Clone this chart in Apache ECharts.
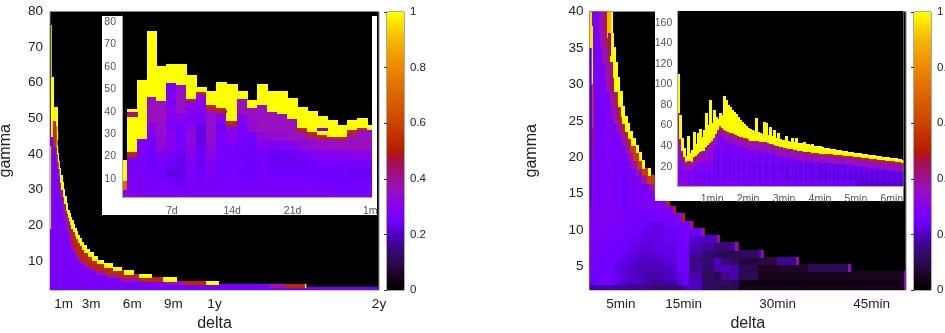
<!DOCTYPE html>
<html><head><meta charset="utf-8">
<style>html,body{margin:0;padding:0;background:#fff}#c{width:945px;height:333px;filter:blur(0.4px)}</style>
<script src="https://cdn.jsdelivr.net/npm/echarts@6/dist/echarts.min.js"></script>
</head><body><div id="c"></div>
<script>
// ---------- colour scale ----------
const paletteStops=[[0,'#000000'],[0.05,'#1c0420'],[0.1,'#2a0a50'],[0.15,'#3a0880'],[0.2,'#5000c4'],[0.25,'#7000ff'],[0.3,'#8800ee'],[0.36,'#9810c0'],[0.42,'#a01080'],[0.47,'#a81040'],[0.5,'#b81c00'],[0.55,'#c03000'],[0.6,'#cc4400'],[0.7,'#dc6400'],[0.8,'#ec8800'],[0.9,'#f4b800'],[1,'#ffff00']];

// ---------- main left ----------
const leftYTicks=[10,20,30,40,50,60,70,80];
const leftXTicks=[1,3,6,9,12,24];
const leftXLabels=['1m','3m','6m','9m','1y','2y'];
const leftRowTop=[2.4,3.3,4.2,5.3,6.2,7.2,8.2,9.2,10.2,11.2,12.2,13.2,14.2,15.2,16.2,17.2,18.2,19.2,20.2,21.2,22.2,23.2,24.2,26,28,30,32,34,36,38,40,42,44,46,48,50];
const leftRowEnd=[24,18.7,12.3,9.25,7.4,6.1,5.2,4.55,3.9,3.5,3.2,2.9,2.65,2.45,2.3,2.18,2.03,1.92,1.8,1.68,1.55,1.48,1.42,1.3,1.2,1.08,0.98,0.88,0.8,0.72,0.66,0.6,0.55,0.6,0.58,0.58];
const leftRowYellow=[24,18.6,11.4,8.3,6.5,5.4,4.6,4.0,3.45,3.1,2.8,2.55,2.35,2.2,2.05,1.95,1.83,1.72,1.6,1.5,1.4,1.34,1.28,1.17,1.07,0.97,0.87,0.77,0.7,0.63,0.56,0.5,0.47,0.5,0.48,0.38];
const leftRowRed=[24,17.2,9.8,6.6,5.1,4.1,3.4,2.9,2.55,2.3,2.1,1.95,1.85,1.75,1.7,1.65,1.6,1.55,1.5,1.42,1.33,1.27,1.22,1.12,1.03,0.93,0.83,0.73,0.66,0.59,0.52,0.46,0.42,0.44,0.42,0.34];
const leftRowMag=[24,16,8.5,5.2,4.2,3.4,2.9,2.5,2.2,2,1.85,1.7,1.6,1.5,1.45,1.4,1.35,1.3,1.2,1.15,1.1,1.05,1,0.95,0.88,0.8,0.72,0.65,0.58,0.5,0.43,0.38,0.33,0.3,0.3,0.25];
const leftSpikes=[[0.02,0.08,19,42,1],[0.07,0.13,45,76,1],[0.14,0.26,45,61.5,1],[0.28,0.36,45,53,1],[0.4,0.56,49,53,1],[0.28,0.42,42,49,0.55]];

// ---------- inset left ----------
const insetAYTicks=[10,20,30,40,50,60,70,80];
const insetAXTicks=[7,14,21,30];
const insetAXLabels=['7d','14d','21d','1m'];
const insetAEdges=[1.23,1.81,2.97,4.13,5.28,6.44,7.6,8.76,9.91,11.07,12.23,13.39,14.6,15.76,16.91,18.07,19.23,20.39,21.54,22.7,23.86,25.02,26.17,27.33,28.49,29.65,30.2];
const insetATop=[18,41,54,76,60,61,61,56,51,49,53,52,49,45,52,49,49,46,42,40,38,36,34,36,37,34];
const insetAYellowBase=[9,22,28,47,45,53,52,46,49,43,42,36,46,42,43,40,39,37,33,31,30,29,29,32,33,32];
const insetARedBase=[5,20,28,47,45,53,52,45,48,41,41,34,46,41.5,43,40,39,37,31,29,28,28,27.5,30,32,32];
const insetABodyEdges=[1.5,4,7,11,15,19,23,27,31,35,39,43,47,55];
const insetABody=[
[.34,.31,.28,.28,.28,.28,.28,.28,.28,.28,.28,.28,.28,.28,.28,.28,.28,.28,.28,.28,.28,.28,.28,.28,.28,.28],
[.30,.28,.27,.27,.27,.27,.26,.27,.27,.27,.27,.27,.27,.27,.27,.27,.27,.27,.27,.27,.27,.26,.26,.26,.26,.26],
[.30,.28,.27,.27,.26,.25,.24,.27,.26,.27,.26,.26,.26,.25,.26,.26,.26,.26,.26,.25,.25,.25,.25,.25,.25,.25],
[.30,.27,.27,.26,.25,.23,.23,.27,.25,.28,.25,.26,.25,.25,.26,.25,.25,.25,.25,.25,.25,.25,.25,.24,.24,.24],
[.30,.26,.27,.25,.26,.25,.235,.28,.24,.29,.26,.26,.26,.24,.26,.245,.24,.245,.24,.25,.26,.26,.26,.26,.26,.26],
[.34,.30,.27,.25,.28,.27,.24,.30,.25,.31,.27,.26,.25,.24,.26,.24,.24,.245,.26,.28,.30,.30,.30,.31,.31,.31],
[.30,.35,.27,.25,.33,.30,.26,.32,.235,.33,.26,.27,.26,.25,.29,.27,.28,.29,.33,.34,.35,.36,.36,.36,.36,.36],
[.30,.35,.30,.27,.34,.30,.26,.33,.23,.34,.27,.30,.26,.26,.33,.34,.34,.36,.36,.36,.36,.36,.36,.36,.36,.36],
[.30,.35,.35,.30,.35,.28,.26,.30,.23,.35,.245,.33,.26,.34,.36,.36,.36,.36,.36,.36,.36,.36,.36,.36,.36,.36],
[.30,.35,.36,.36,.36,.29,.30,.27,.27,.34,.30,.36,.30,.35,.36,.36,.36,.36,.36,.36,.36,.36,.36,.36,.36,.36],
[.30,.35,.36,.36,.36,.30,.35,.30,.28,.36,.33,.36,.36,.36,.36,.36,.36,.36,.36,.36,.36,.36,.36,.36,.36,.36],
[.30,.35,.36,.34,.36,.28,.36,.33,.30,.36,.36,.36,.36,.36,.36,.36,.36,.36,.36,.36,.36,.36,.36,.36,.36,.36],
[.30,.35,.36,.36,.36,.27,.35,.36,.34,.36,.36,.36,.36,.36,.36,.36,.36,.36,.36,.36,.36,.36,.36,.36,.36,.36]];
const insetAExtras=[[1.81,2.97,38,40,0.42],[1.81,2.97,40,41,1],[12.23,13.39,39.5,40.5,0.52],[23.86,25.02,31.5,32.5,0.28]];

// ---------- main right ----------
const rightYTicks=[5,10,15,20,25,30,35,40];
const rightXTicks=[5,15,30,45];
const rightXLabels=['5min','15min','30min','45min'];
const rightRowTop=[2.6,3.2,4.3,5.3,6.2,7.2,8.3,9.3,10.2,11.2,12.3,13.3,14.3,15.4,16.4,17.5,18.5,19.5,20.6,21.6,22.6,23.6,24.6,25.6,27,29,31,33,35,37,40];
const rightRowEnd=[50.5,50.5,50.5,41.7,33.4,27.8,23.8,20.8,18.4,16.6,15.1,13.8,12.7,11.8,11.1,10.3,9.76,8.85,8.3,7.8,7.26,6.9,6.46,6,5.66,5.2,4.86,4.5,4.2,3.9,3.7];
const rightRowYellowW=[0,0,0,0,0,0,0,0,0,0,0,0,0,0,0,0,.4,.4,.3,.3,.5,.6,.7,.7,.6,.6,.8,.8,.8,.8,.8];
const rightRowRedW=[0,0,0,0,.12,.12,.15,.15,.15,.2,.25,.25,.3,.5,.7,1.1,.9,.8,.9,.9,.6,.5,.5,.5,.5,.4,.4,.3,.4,.4,.4];
const rightBodyEdges=[0,1,2,3,4,5,6,7,8,9,10,12,14,15,16,18,20,21,22.5,24,27,30,35,42,50.5];
const rightBody=[
[.18,.18,.18,.18,.17,.17,.16,.16,.16,.16,.14,.14,.14,.20,.20,.12,.10,.10,.10,.04,.04,.04,.04,.04],
[.24,.25,.26,.25,.23,.21,.20,.20,.19,.17,.17,.18,.22,.24,.20,.12,.12,.12,.10,.03,.03,.03,.03,.03],
[.25,.25,.26,.25,.24,.22,.21,.20,.19,.18,.18,.20,.23,.24,.18,.11,.10,.16,.18,.10,.04,.04,.04,.05],
[.26,.25,.25,.25,.23,.22,.21,.20,.19,.19,.19,.20,.25,.25,.16,.13,.18,.20,.18,.10,.05,.06,.10,.16],
[.26,.26,.25,.25,.24,.23,.22,.21,.20,.20,.20,.22,.25,.25,.15,.14,.20,.14,.12,.08,.09,.16,.14,.14],
[.27,.26,.26,.25,.25,.24,.23,.22,.21,.21,.22,.23,.25,.25,.17,.13,.12,.10,.10,.12,.17,.14,.14,.14],
[.27,.27,.26,.26,.25,.25,.24,.23,.22,.22,.23,.23,.25,.26,.19,.17,.14,.14,.16,.20,.20,.20,.20,.20],
[.28,.27,.27,.26,.26,.25,.25,.24,.23,.23,.23,.24,.25,.26,.21,.20,.20,.25,.25,.25,.25,.25,.25,.25],
[.28,.28,.27,.27,.26,.26,.25,.25,.24,.23,.23,.24,.25,.26,.24,.26,.26,.26,.26,.26,.26,.26,.26,.26],
[.28,.28,.28,.27,.27,.26,.26,.25,.25,.24,.23,.25,.26,.28,.28,.28,.28,.28,.28,.28,.28,.28,.28,.28],
[.28,.28,.28,.28,.27,.27,.26,.26,.25,.25,.26,.26,.30,.33,.33,.33,.33,.33,.33,.33,.33,.33,.33,.33],
[.28,.28,.28,.28,.28,.27,.27,.26,.26,.26,.27,.28,.33,.33,.33,.33,.33,.33,.33,.33,.33,.33,.33,.33]];
const rightStreakEdges=[0,.4,.8,1.2,1.6,2,2.4,2.8,3.2,3.6,4,4.4,4.8,5.2,5.6,6,6.4,6.8,7.2,7.6,8,8.4,8.8,9.2,9.6,10,10.4,10.8,11.2,11.6,12];
const rightStreak=[.22,.30,.27,.26,.27,.28,.27,.26,.29,.27,.26,.28,.27,.26,.25,.27,.28,.26,.27,.28,.27,.28,.27,.28,.27,.28,.28,.27,.28,.28];
const rightSpikes=[[0.05,0.35,35,40,0.95],[0.35,0.55,30,38,1],[0.4,0.6,24,30,0.6],[0.45,0.6,20,24,0.5],[2.9,3.3,36.5,40,0.9],[3.1,3.4,34,37,0.42],[3.3,3.6,29,33,0.42]];

// ---------- inset right ----------
const insetBYTicks=[20,40,60,80,100,120,140,160];
const insetBXTicks=[1,2,3,4,5,6];
const insetBXLabels=['1min','2min','3min','4min','5min','6min'];
const insetBStart=0.03;
const insetBStep=0.0557;
const insetBTop=[110,70,47,38,30,49,33,36,53,42,52,56,48,55,72,60,84,62,75,68,66,72,70,88,84,80,78,75,73,71,68,65,63,61,59,57,56,55,54,67,53,52,51,63,62,50,58,49,55,47,52,46.5,46,45.5,49,44.5,44,47,43.5,47,43,43,42.5,44,41.5,41.5,41,42,40,40,39.5,40,38.5,38,38,38,37,37,37,36,36,36,35,35,35,34,34,34,33,33,33,33,32,32,32,31,31,31,31,30,30,30,29,29,29,29,28,28,28,28,27,27,26];
const insetBBase=[73,47,36,30,25,26,26,25,30,31,33,35,36,36,40,42,44,46,48,52,56,60,58,56,55,54,53,53,52,51,50,49,49,48,48,47,46,46,46,46,46,45,45,45,45,44,43,43,42,41,41,40,40,39,39,38,38,38,37,37,36,36,36,35,35,35,35,34,34,34,34,33,33,33,33,33,33,33,32,32,32,32,32,31,31,31,31,31,30,30,30,30,29,29,29,29,28,28,28,28,27,27,27,27,26,26,26,26,26,25,25,25,24];
const insetBStreak=[.02,.01,-.01,.01,.02,0,-.02,.01,-.02,0,.02,-.01,.01,-.03,.01,0,-.02,.02,-.01,0,-.03,.01,.02,-.02,0,.01,-.03,.01,-.01,.02,-.02,0,.01,-.03,.02,0,-.01,.01,-.02,.02,0,-.03,.01,.01,-.02,0,.02,-.01,-.03,.01,0,.02,-.02,.01,-.01,-.03,.02,0,.01,-.02,.01,-.01,0,.02,-.03,.01,0,-.02,.01,.02,-.01,-.02,0,.01,-.03,.01,0,.01,-.02,.01,-.01,0,.02,-.02,0,.01,-.01,0,.01,-.02,.01,0,-.01,.01,-.02,0,.01,-.01,.01,0,-.02,.01,0,-.01,.01,0,-.02,.01,-.01,0,.01,-.01,0];
const insetBSpikes=[[0.03,0.045,110,165,1]];
const insetBBodyXEdges=[0,.5,1,2,3,4,5,6.4];
const insetBBodyYEdges=[1.3,8,16,24,32,42,60,90];
const insetBBody=[
[.30,.28,.28,.27,.26,.25,.22],
[.28,.26,.26,.25,.24,.23,.23],
[.30,.28,.25,.24,.24,.24,.25],
[.32,.33,.26,.26,.27,.31,.33],
[.33,.33,.27,.29,.33,.33,.33],
[.33,.30,.28,.33,.33,.33,.33],
[.33,.33,.33,.33,.33,.33,.33]];

// ---------- helpers ----------
function hex(h){return [parseInt(h.slice(1,3),16),parseInt(h.slice(3,5),16),parseInt(h.slice(5,7),16)];}
function colorOf(v){
  v=Math.max(0,Math.min(1,v));
  for(let i=1;i<paletteStops.length;i++){
    const a=paletteStops[i-1],b=paletteStops[i];
    if(v<=b[0]){const t=(v-a[0])/(b[0]-a[0]),p=hex(a[1]),q=hex(b[1]);
      return 'rgb('+p.map((c,k)=>Math.round(c+(q[k]-c)*t)).join(',')+')';}
  }
  return '#ffff00';
}
function renderCell(params,api){
  const x0=api.value(0),x1=api.value(1),y0=api.value(2),y1=api.value(3),v=api.value(4);
  const a=api.coord([x0,y0]),b=api.coord([x1,y1]);
  let l=Math.min(a[0],b[0]),r=Math.max(a[0],b[0]),t=Math.min(a[1],b[1]),d=Math.max(a[1],b[1]);
  if(r-l>=1.5){l=Math.floor(l);r=Math.ceil(r);}
  if(d-t>=1.5){t=Math.floor(t);d=Math.ceil(d);}
  const cs=params.coordSys;
  return {type:'rect',shape:{x:l,y:t,width:r-l,height:d-t},style:{fill:colorOf(v)},
    clipPath:{type:'rect',shape:{x:cs.x,y:cs.y,width:cs.width,height:cs.height}},silent:true};
}
function addSegments(cells,from,to,y0,y1,edges,vals){
  for(let i=0;i<vals.length;i++){
    const a=Math.max(from,edges[i]),b=Math.min(to,edges[i+1]);
    if(b>a&&vals[i]!=null)cells.push([a,b,y0,y1,vals[i]]);
  }
}
// ---------- build cells ----------
function leftCells(){
  const c=[];let base=1.8;
  leftRowTop.forEach((top,i)=>{
    const m=leftRowMag[i],r=leftRowRed[i],y=leftRowYellow[i],e=leftRowEnd[i];
    const bodyV=i===0?0.26:0.27;
    c.push([0,m,base,top,bodyV]);
    if(r>m)c.push([m,r,base,top,0.37]);
    if(y>r)c.push([r,y,base,top,0.53]);
    if(e>y)c.push([y,e,base,top,1]);
    base=top;
  });
  leftSpikes.forEach(s=>c.push(s));
  return c;
}
function insetACells(){
  const c=[];
  insetATop.forEach((top,i)=>{
    const x0=insetAEdges[i],x1=insetAEdges[i+1],yb=insetAYellowBase[i],rb=insetARedBase[i];
    insetABody.forEach((row,k)=>{
      const a=insetABodyEdges[k],b=Math.min(insetABodyEdges[k+1],rb);
      if(b>a)c.push([x0,x1,a,b,row[i]]);
    });
    if(yb>rb)c.push([x0,x1,rb,yb,i===0?0.7:0.53]);
    c.push([x0,x1,yb,top,1]);
  });
  insetAExtras.forEach(s=>c.push(s));
  return c;
}
function rightCells(){
  const c=[];let base=1.8;
  rightRowTop.forEach((top,i)=>{
    const e=rightRowEnd[i],yw=rightRowYellowW[i],rw=rightRowRedW[i];
    const red=e-yw-rw, mag=red-(top>15?0.9:0.3);
    if(i<rightBody.length) addSegments(c,0,mag,base,top,rightBodyEdges,rightBody[i]);
    else addSegments(c,0,mag,base,top,rightStreakEdges,rightStreak);
    c.push([mag,red,base,top,top>15?0.37:0.33]);
    if(rw>0)c.push([red,e-yw,base,top,top>15&&top<22?0.58:0.52]);
    if(yw>0)c.push([e-yw,e,base,top,1]);
    base=top;
  });
  rightSpikes.forEach(s=>c.push(s));
  return c;
}
function insetBCells(){
  const c=[];
  insetBTop.forEach((top,i)=>{
    const x0=insetBStart+i*insetBStep,x1=x0+insetBStep,base=insetBBase[i];
    const col=insetBBodyXEdges.findIndex((e,k)=>x0>=e&&x0<insetBBodyXEdges[k+1]);
    const redB=base-1.6,magB=base-9;
    insetBBody.forEach((row,k)=>{
      const a=insetBBodyYEdges[k],b=Math.min(insetBBodyYEdges[k+1],magB);
      if(b>a)c.push([x0,x1,a,b,row[col]+insetBStreak[i]]);
    });
    c.push([x0,x1,Math.max(magB,1.3),redB,0.36+insetBStreak[i]]);
    c.push([x0,x1,redB,base,0.53]);
    if(top>base)c.push([x0,x1,base,top,1]);
  });
  insetBSpikes.forEach(s=>c.push(s));
  return c;
}
// ---------- chart ----------
const FONT="'Liberation Sans', Arial, sans-serif";
function xAxis(grid,min,max,ticks,labels,size,color,name,z){
  return {type:'value',gridIndex:grid,min,max,z,name,nameLocation:'middle',nameGap:26,
    nameTextStyle:{fontFamily:FONT,fontSize:16,color:'#222'},
    splitLine:{show:false},axisLine:{show:!name,onZero:false,lineStyle:{color:'#aaa'}},axisTick:{show:false},
    axisLabel:{customValues:ticks,formatter:v=>labels[ticks.indexOf(v)],fontFamily:FONT,fontSize:size,color,margin:name?7:8,hideOverlap:false,showMinLabel:true,showMaxLabel:true}};
}
function yAxis(grid,min,max,ticks,size,color,name,gap,z,margin){
  return {type:'value',gridIndex:grid,min,max,z,name,nameLocation:'middle',nameGap:gap,nameRotate:90,
    nameTextStyle:{fontFamily:FONT,fontSize:16,color:'#222'},
    splitLine:{show:false},axisLine:{show:!name,onZero:false,lineStyle:{color:'#aaa'}},axisTick:{show:false},
    axisLabel:{customValues:ticks,fontFamily:FONT,fontSize:size,color,margin}};
}
function cellSeries(i,data,z){
  return {type:'custom',xAxisIndex:i,yAxisIndex:i,z,data,renderItem:renderCell,clip:true,
    encode:{x:[0,1],y:[2,3]},silent:true,animation:false,progressive:0};
}
const gridBase={show:true,backgroundColor:'#000',borderColor:'#8a8a8a',borderWidth:1,outerBoundsMode:'none'};
const barStops=paletteStops.map(s=>({offset:1-s[0],color:s[1]}));
function barSeries(i){
  return {type:'custom',xAxisIndex:i,yAxisIndex:i,z:3,data:[[0,1,0,1]],silent:true,animation:false,encode:{x:[0,1],y:[2,3]},
    renderItem:(p,api)=>{const a=api.coord([0,1]),b=api.coord([1,0]);
      return {type:'rect',shape:{x:a[0],y:a[1],width:b[0]-a[0],height:b[1]-a[1]},
        style:{fill:new echarts.graphic.LinearGradient(0,0,0,1,barStops.slice().reverse())}};}};
}
function barXAxis(i){return {type:'value',gridIndex:i,min:0,max:1,show:false};}
function barYAxis(i,pos,labels){
  return {type:'value',gridIndex:i,min:0,max:1,interval:0.2,position:pos,z:5,splitLine:{show:false},
    axisLine:{show:false},axisTick:{show:true,inside:true,length:3,lineStyle:{color:'#333'}},
    axisLabel:{show:labels,fontFamily:FONT,fontSize:11.5,color:'#222',margin:6,formatter:v=>String(+v.toFixed(1))}};
}
const chart=echarts.init(document.getElementById('c'),null,{renderer:'canvas'});
chart.setOption({
  animation:false,backgroundColor:'#fff',
  grid:[
    Object.assign({left:50,top:11.5,width:329,height:278.5},gridBase),
    Object.assign({left:589.5,top:11.5,width:316.5,height:278.5},gridBase),
    {left:122,top:16,width:250,height:181.7,z:6,outerBoundsMode:'none'},
    {left:677.3,top:11.5,width:226,height:174.5,z:6,outerBoundsMode:'none'},
    {left:387,top:12,width:17,height:278,show:true,borderColor:'#555',borderWidth:1,z:3,outerBoundsMode:'none'},
    {left:914,top:12,width:17,height:278,show:true,borderColor:'#555',borderWidth:1,z:3,outerBoundsMode:'none'}
  ],
  xAxis:[
    xAxis(0,0,24,leftXTicks,leftXLabels,13.5,'#222','delta',1),
    xAxis(1,0,50.5,rightXTicks,rightXLabels,13.5,'#222','delta',1),
    xAxis(2,1.23,30.2,insetAXTicks,insetAXLabels,10.5,'#555','',8),
    xAxis(3,0.03,6.32,insetBXTicks,insetBXLabels,10.5,'#555','',8),
    barXAxis(4),barXAxis(5)
  ],
  yAxis:[
    yAxis(0,1.8,80,leftYTicks,13.5,'#222','gamma',36,1,7),
    yAxis(1,1.8,40,rightYTicks,13.5,'#222','gamma',49.5,1,6),
    yAxis(2,1.5,82.8,insetAYTicks,10.5,'#555','',0,8,6),
    yAxis(3,1.3,170.9,insetBYTicks,10.5,'#555','',0,8,5),
    barYAxis(4,'right',true),barYAxis(5,'right',true)
  ],
  graphic:[
    {type:'rect',z:5,silent:true,shape:{x:102,y:16,width:275,height:199},style:{fill:'#fff'}},
    {type:'rect',z:5,silent:true,shape:{x:122,y:16,width:250,height:181.7},style:{fill:'#000'}},
    {type:'rect',z:5,silent:true,shape:{x:655,y:11,width:248.5,height:190},style:{fill:'#fff'}},
    {type:'rect',z:5,silent:true,shape:{x:677.3,y:11,width:226,height:175},style:{fill:'#000'}}
  ],
  series:[
    cellSeries(0,leftCells(),2),
    cellSeries(1,rightCells(),2),
    cellSeries(2,insetACells(),6),
    cellSeries(3,insetBCells(),6),
    barSeries(4),barSeries(5)
  ]
});
</script></body></html>
